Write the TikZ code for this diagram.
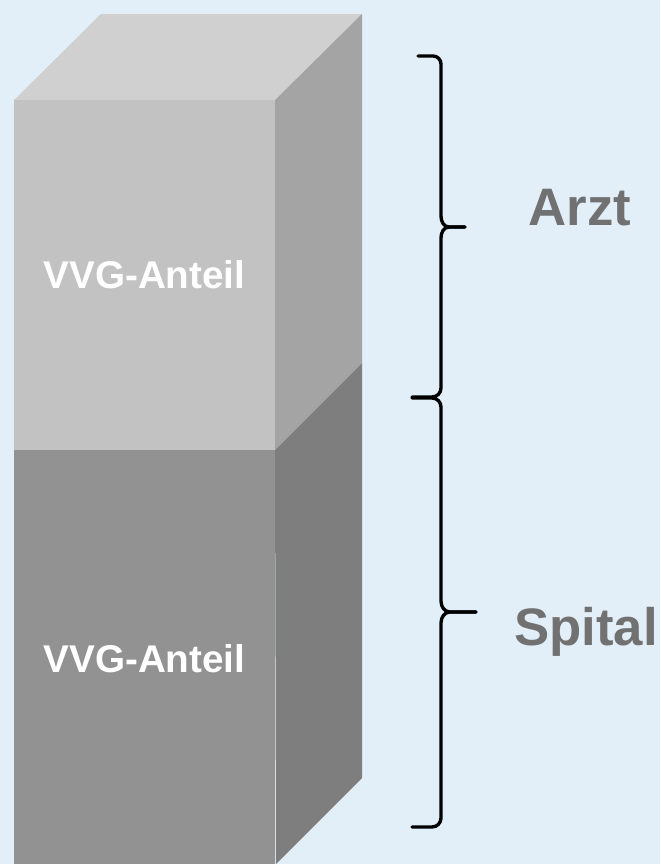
\documentclass[tikz,border=0pt]{standalone}
\usepackage{fontspec}
\newfontfamily\arialfont{Liberation Sans}
\usepackage{tikz}
\definecolor{bgblue}{HTML}{E2EFF9}
\definecolor{topgray}{HTML}{D0D0D0}
\definecolor{frontlight}{HTML}{C2C2C2}
\definecolor{sidelight}{HTML}{A4A4A4}
\definecolor{frontdark}{HTML}{929292}
\definecolor{sidedark}{HTML}{7E7E7E}
\definecolor{labelgray}{HTML}{717171}
\tikzset{%
  face/.style={draw=none},
  innerlabel/.style={text=white, anchor=base, inner sep=0pt, font=\arialfont\bfseries\fontsize{27.5}{33}\selectfont},
  sidelabel/.style={text=labelgray, anchor=base, inner sep=0pt, font=\arialfont\bfseries\fontsize{37.5}{45}\selectfont},
  bracepen/.style={draw, line width=2.4pt, line cap=round, line join=round}}

\begin{document}
\begin{tikzpicture}[x=0.025cm, y=-0.025cm]
    % Background
    \fill[bgblue] (0,0) rectangle (660,864);
    \useasboundingbox (0,0) rectangle (660,864);
    % Upper block: Arzt
    \fill[topgray, face] (14,100) -- (101,14) -- (362,14) -- (275,100) -- cycle;
    \fill[frontlight, face] (14,100) rectangle (275,450);
    \fill[sidelight, face] (275,100) -- (362,14) -- (362,363) -- (275,450) -- cycle;
    % Lower block: Spital
    \fill[frontdark, face] (14,450) rectangle (275,864);
    \fill[sidedark, face] (275,450) -- (362,363) -- (362,778) -- (276,864) -- cycle;
    % Texts on the blocks
    \node (upperpart) [innerlabel] at (144.5,288) {VVG-Anteil};
    \node (lowerpart) [innerlabel] at (144.5,672) {VVG-Anteil};
    % Braces
    \coordinate (arzttip) at (465,227);
    \coordinate (spitaltip) at (476,612);
    \draw[bracepen] (418,56) -- (433,56) to[out=0,in=90] (441,64) -- (441,216)
      to[out=-90,in=180] (449,227) -- (arzttip);
    \draw[bracepen] (arzttip) -- (449,227) to[out=180,in=90] (441,238) -- (441,388)
      to[out=-90,in=0] (432,397) -- (412,397);
    \draw[bracepen] (412,398) -- (432,398) to[out=0,in=90] (441,407) -- (441,601)
      to[out=-90,in=180] (450,612) -- (spitaltip);
    \draw[bracepen] (spitaltip) -- (450,612) to[out=180,in=90] (441,623) -- (441,818)
      to[out=-90,in=0] (432,827) -- (412,827);
    % Labels
    \node (arzt) [sidelabel] at (580,225) {Arzt};
    \node (spital) [sidelabel] at (586,645) {Spital};
  \end{tikzpicture}
\end{document}
